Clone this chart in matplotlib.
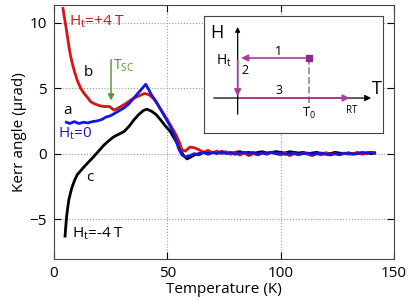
import matplotlib
matplotlib.use('Agg')
import matplotlib.pyplot as plt

plt.rcParams['font.family'] = ['Open Sans', 'DejaVu Sans']
plt.rcParams['mathtext.fontset'] = 'custom'
plt.rcParams['mathtext.rm'] = 'Open Sans'
plt.rcParams['mathtext.it'] = 'Open Sans:italic'

# flat tail above Tc (shared temperatures)
tail_T = [60, 62, 64, 66, 68, 70, 72, 74, 76, 78, 80, 82, 84, 86, 88, 90, 92, 94, 96, 98,
          100, 102, 104, 106, 108, 110, 112, 114, 116, 118, 120, 122, 124, 126, 128, 130,
          132, 134, 136, 138, 140, 141.5]

# curve b : Ht = +4 T
red_T = [4, 4.5, 5.2, 6, 6.6, 7.3, 8.1, 9, 10.3, 11.8, 13.3, 15, 16.2, 18, 20.6, 22.5,
         24.5, 26.5, 28, 29.5, 31.5, 33.9, 36, 38, 40, 42, 44, 46, 48, 50, 52, 54, 55.5,
         56.5, 58] + tail_T
red_y = [11.1, 10.5, 9.8, 8.9, 8.2, 7.5, 6.9, 6.3, 5.6, 5.0, 4.6, 4.25, 3.97, 3.8, 3.64,
         3.6, 3.6, 3.33, 3.45, 3.6, 3.8, 4.1, 4.3, 4.45, 4.6, 4.5, 4.2, 3.7, 3.15, 2.6,
         2.0, 1.4, 0.8, 0.28, 0.2,
         0.5, 0.45, 0.3, 0.1, 0.25, 0.05, 0.2, 0.0, 0.15, -0.05, 0.1, -0.1, 0.05, -0.15, 0.0,
         -0.1, 0.05, -0.05, 0.1, 0.0, -0.1, 0.05, -0.15, 0.0, -0.1, 0.05, -0.05, -0.15, 0.0,
         -0.1, 0.05, -0.05, 0.0, -0.1, 0.05, -0.05, 0.0, 0.1, -0.05, 0.05, 0.1, 0.05]

# curve a : Ht = 0
blue_T = [5.5, 7, 9, 11, 13, 15, 17, 19, 21, 23, 25, 27, 29, 31, 33, 35, 37, 39, 40.5,
          41.5, 43, 45, 47, 49, 51, 53, 55, 56.5, 58] + tail_T
blue_y = [2.4, 2.3, 2.45, 2.3, 2.4, 2.35, 2.45, 2.5, 2.6, 2.8, 2.9, 3.1, 3.3, 3.5, 3.8, 4.2,
          4.6, 5.0, 5.3, 5.0, 4.5, 4.0, 3.4, 2.8, 2.2, 1.5, 0.4, -0.1, -0.25,
          -0.15, 0.0, -0.1, 0.1, -0.05, 0.1, 0.0, 0.15, 0.0, 0.1, -0.05, 0.05, 0.1, 0.0,
          0.1, -0.05, 0.05, 0.0, 0.1, 0.0, 0.05, -0.05, 0.0, 0.05, -0.05, 0.0, 0.05, -0.05,
          0.0, 0.05, -0.05, -0.1, 0.0, -0.05, 0.0, 0.05, -0.05, 0.0, 0.1, 0.05, 0.1, 0.05]

# curve c : Ht = -4 T
black_T = [4.9, 5.2, 5.6, 6.1, 6.6, 7.3, 8.1, 9.2, 10.3, 11.8, 13.3, 15.5, 17.7, 20, 22.1,
           24.3, 26.5, 28.8, 31, 33.2, 35.4, 37.5, 39.5, 41, 43, 45, 47, 49, 51.3, 53, 55,
           57, 58.7] + tail_T
black_y = [-6.3, -5.6, -4.8, -4.1, -3.5, -3.0, -2.5, -2.0, -1.6, -1.3, -1.0, -0.6, -0.2,
           0.25, 0.66, 1.0, 1.3, 1.5, 1.7, 2.1, 2.6, 3.0, 3.3, 3.4, 3.25, 3.0, 2.6, 2.15,
           1.7, 1.2, 0.6, -0.1, -0.4,
           -0.3, -0.1, 0.0, 0.1, 0.0, 0.1, 0.05, 0.15, 0.1, 0.0,
           0.1, 0.15, 0.05, 0.1, 0.0, 0.1, 0.15, 0.05, 0.1, 0.15,
           0.1, 0.05, 0.15, 0.1, 0.05, 0.1, 0.0, 0.05, 0.1, 0.0,
           0.05, 0.0, 0.1, 0.05, 0.0, 0.05, 0.0, 0.05, 0.0, 0.05,
           0.0, 0.05]

x_ticks = [0, 50, 100, 150]
y_ticks = [-5, 0, 5, 10]

fig = plt.figure(figsize=(4.15, 3.01), dpi=100)
ax = fig.add_axes([0.130, 0.1395, 0.819, 0.8435])

ax.plot(black_T, black_y, color='black', lw=2.0)
ax.plot(red_T, red_y, color='#d41515', lw=2.0)
ax.plot(blue_T, blue_y, color='#1515e6', lw=2.0)

ax.set_xlim(0, 150)
ax.set_ylim(-8.05, 11.35)
ax.set_xticks(x_ticks)
ax.set_yticks(y_ticks)
ax.grid(True, color='#999999', linestyle=':', lw=0.8)
ax.tick_params(direction='in', length=5, top=True, right=True, labelsize=11, pad=5)
for s in ax.spines.values():
    s.set_color('#444444')
ax.set_xlabel('Temperature (K)', fontsize=11, labelpad=1)
ax.set_ylabel('Kerr angle (\u00b5rad)', fontsize=11, labelpad=2)

ax.text(6.6, 10.05, r'H$_{\rm t}$=+4 T', color='#d41515', fontsize=11, va='center')
ax.text(15, 6.2, 'b', fontsize=11, ha='center', va='center')
ax.text(6.2, 3.3, 'a', fontsize=11, ha='center', va='center')
ax.text(1.8, 1.5, r'H$_{\rm t}$=0', color='#1515e6', fontsize=11, va='center')
ax.text(15.9, -1.85, 'c', fontsize=11, ha='center', va='center')
ax.text(8, -6.1, r'H$_{\rm t}$=-4 T', fontsize=11, va='center')

green = '#4e9a1e'
ax.annotate('', xy=(25.2, 3.85), xytext=(25.2, 7.4),
            arrowprops=dict(arrowstyle='-|>', color=green, lw=1.0, mutation_scale=9))
ax.text(26.0, 6.75, r'T$_{\rm SC}$', color=green, fontsize=10, va='center')

# inset: field/temperature protocol
ins = fig.add_axes([0.4916, 0.558, 0.431, 0.389])
ins.set_xlim(0, 1)
ins.set_ylim(0, 1)
ins.set_xticks([])
ins.set_yticks([])
for s in ins.spines.values():
    s.set_color('#444444')
ins.set_facecolor('white')

mag = '#b03aa0'
ins.annotate('', xy=(0.188, 0.93), xytext=(0.188, 0.137),
             arrowprops=dict(arrowstyle='-|>', color='black', lw=0.9, mutation_scale=7))
ins.annotate('', xy=(0.95, 0.299), xytext=(0.039, 0.299),
             arrowprops=dict(arrowstyle='-|>', color='black', lw=0.9, mutation_scale=9))
ins.plot([0.587, 0.587], [0.641, 0.214], color='#9a8aa8', lw=1.3, ls='--')
ins.annotate('', xy=(0.192, 0.641), xytext=(0.587, 0.641),
             arrowprops=dict(arrowstyle='-|>', color=mag, lw=1.2, mutation_scale=10))
ins.annotate('', xy=(0.188, 0.29), xytext=(0.188, 0.641),
             arrowprops=dict(arrowstyle='-|>', color=mag, lw=1.2, mutation_scale=10))
ins.annotate('', xy=(0.83, 0.299), xytext=(0.188, 0.299),
             arrowprops=dict(arrowstyle='-|>', color=mag, lw=1.2, mutation_scale=10))
ins.plot([0.587], [0.641], marker='s', ms=4.5, color='#8a2a8a')

ins.text(0.073, 0.855, 'H', fontsize=13, ha='center', va='center')
ins.text(0.11, 0.62, r'H$_{\rm t}$', fontsize=10, ha='center', va='center')
ins.text(0.419, 0.70, '1', fontsize=9, ha='center', va='center')
ins.text(0.229, 0.53, '2', fontsize=9, ha='center', va='center')
ins.text(0.419, 0.365, '3', fontsize=9, ha='center', va='center')
ins.text(0.587, 0.165, r'T$_{\rm 0}$', fontsize=9, ha='center', va='center')
ins.text(0.827, 0.19, 'RT', fontsize=7, ha='center', va='center')
ins.text(0.965, 0.38, 'T', fontsize=13, ha='center', va='center')

fig.savefig('out.png', dpi=100)
